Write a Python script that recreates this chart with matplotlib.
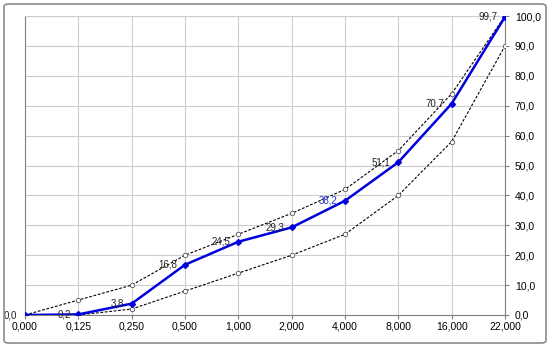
import matplotlib.pyplot as plt
from matplotlib.patches import FancyBboxPatch

# sieve sizes (mm) and passing percentages
sizes = ["0,000", "0,125", "0,250", "0,500", "1,000", "2,000", "4,000", "8,000", "16,000", "22,000"]
passing = [0.0, 0.2, 3.8, 16.8, 24.5, 29.3, 38.2, 51.1, 70.7, 99.7]
upper_limit = [0, 5, 10, 20, 27, 34, 42, 55, 74, 100]
lower_limit = [0, 0, 2, 8, 14, 20, 27, 40, 58, 90]
y_ticks = [0, 10, 20, 30, 40, 50, 60, 70, 80, 90, 100]

plt.rcParams['font.family'] = ['Liberation Sans', 'DejaVu Sans']

fig = plt.figure(figsize=(5.5, 3.47), dpi=100)
ax = fig.add_axes([25 / 550, 1 - 315 / 347, 480 / 550, 299 / 347])

# outer rounded frame
frame = FancyBboxPatch((4 / 550, 4 / 347), 542 / 550, 339 / 347,
                       boxstyle="round,pad=0,rounding_size=0.008",
                       transform=fig.transFigure, facecolor='none',
                       edgecolor='#8c8c8c', linewidth=1.2)
fig.patches.append(frame)

x = list(range(len(sizes)))

ax.plot(x, upper_limit, color='black', linestyle='--', dashes=(2.5, 1.5), linewidth=0.8,
        marker='o', markersize=3.2, markerfacecolor='white', markeredgecolor='#555555',
        markeredgewidth=0.6, zorder=3)
ax.plot(x, lower_limit, color='black', linestyle='--', dashes=(2.5, 1.5), linewidth=0.8,
        marker='o', markersize=3.2, markerfacecolor='white', markeredgecolor='#555555',
        markeredgewidth=0.6, zorder=3)
ax.plot(x, passing, color='#0000dd', linewidth=1.8, marker='D', markersize=3,
        markerfacecolor='#0000dd', markeredgecolor='#0000dd', zorder=4)

for xi, v in zip(x, passing):
    label = f"{v:.1f}".replace(".", ",")
    color = '#2233cc' if v == 38.2 else '#222222'
    ax.annotate(label, (xi, v), xytext=(-5.5, 0), textcoords='offset points',
                ha='right', va='center', fontsize=7, color=color,
                annotation_clip=False, zorder=5)

ax.set_xlim(0, len(sizes) - 1)
ax.set_ylim(0, 100)
ax.set_xticks(x)
ax.set_xticklabels(sizes)
ax.set_yticks(y_ticks)
ax.set_yticklabels([f"{t:.1f}".replace(".", ",") for t in y_ticks])
ax.yaxis.tick_right()
ax.tick_params(axis='both', labelsize=7.5, length=3, color='#808080', pad=2)
ax.tick_params(axis='y', pad=4)

ax.grid(True, color='#cccccc', linewidth=0.8)
ax.set_axisbelow(True)
for side in ['left', 'bottom', 'right']:
    ax.spines[side].set_color('#808080')
ax.spines['top'].set_color('#cccccc')

plt.savefig('out.png', dpi=100)
